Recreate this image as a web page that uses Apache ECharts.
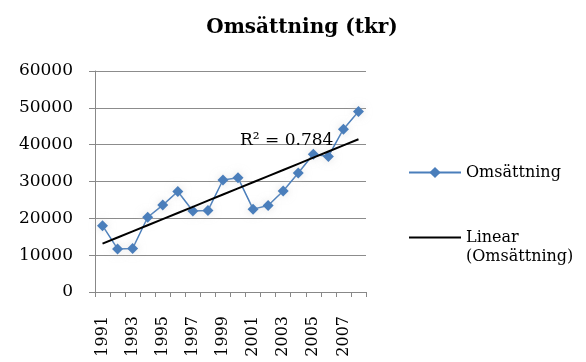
<!DOCTYPE html>
<html>
<head>
<meta charset="utf-8">
<style>
  html, body { margin: 0; padding: 0; background: #fff; }
  #chart { width: 586px; height: 362px; }
</style>
<script src="https://cdn.jsdelivr.net/npm/echarts@6/dist/echarts.min.js"></script>
</head>
<body>
<div id="chart"></div>
<script>
// Yearly turnover in thousands of kronor
const years = ['1991','1992','1993','1994','1995','1996','1997','1998','1999',
               '2000','2001','2002','2003','2004','2005','2006','2007','2008'];
const turnover = [18000, 11700, 11800, 20300, 23600, 27300, 22000, 22100, 30400,
                  31000, 22500, 23500, 27400, 32300, 37400, 36800, 44200, 49000];
const yTicks = [0, 10000, 20000, 30000, 40000, 50000, 60000];

// Least-squares linear trend over the year index
function linearFit(values) {
  const n = values.length;
  const xs = values.map((_, i) => i + 1);
  const mx = xs.reduce((a, b) => a + b, 0) / n;
  const my = values.reduce((a, b) => a + b, 0) / n;
  let sxy = 0, sxx = 0, syy = 0;
  xs.forEach((x, i) => {
    sxy += (x - mx) * (values[i] - my);
    sxx += (x - mx) * (x - mx);
    syy += (values[i] - my) * (values[i] - my);
  });
  const slope = sxy / sxx;
  const intercept = my - slope * mx;
  return { line: xs.map(x => intercept + slope * x), r2: (sxy * sxy) / (sxx * syy) };
}
const fit = linearFit(turnover);
const r2Label = 'R² = 0.784';

const serif = 'DejaVu Serif';
const chart = echarts.init(document.getElementById('chart'), null, { renderer: 'canvas' });
chart.setOption({
  animation: false,
  backgroundColor: '#fff',
  title: {
    text: 'Omsättning (tkr)',
    left: 297, top: 13, textAlign: 'center',
    textStyle: { fontFamily: serif, fontWeight: 'bold', fontSize: 20, color: '#000' }
  },
  grid: { left: 95, right: 220, top: 71, bottom: 70 },
  legend: {
    orient: 'vertical',
    left: 408, top: 163, padding: 0,
    itemWidth: 52, itemHeight: 14, itemGap: 27,
    textStyle: { fontFamily: serif, fontSize: 16, color: '#000', lineHeight: 19 },
    data: [
      { name: 'Omsättning' },
      { name: 'Linear (Omsättning)', icon: 'path://M0,0 L52,0 L52,2 L0,2 Z', itemStyle: { color: '#000' } }
    ],
    // first text line of the trend entry sits level with its line icon
    formatter: name => name === 'Linear (Omsättning)' ? ' \nLinear\n(Omsättning)' : name
  },
  xAxis: {
    type: 'category',
    data: years,
    boundaryGap: true,
    axisLine: { lineStyle: { color: '#888', width: 1 } },
    axisTick: { show: true, length: 5, interval: 0, lineStyle: { color: '#888' } },
    axisLabel: {
      interval: 1, rotate: 90, margin: 24, hideOverlap: false,
      fontFamily: serif, fontSize: 16, color: '#000'
    }
  },
  yAxis: {
    type: 'value',
    min: yTicks[0], max: yTicks[yTicks.length - 1], interval: 10000,
    axisLine: { show: true, lineStyle: { color: '#888', width: 1 } },
    axisTick: { show: true, length: 6, lineStyle: { color: '#888' } },
    splitLine: { lineStyle: { color: '#8c8c8c', width: 1 } },
    axisLabel: { margin: 22, fontFamily: serif, fontSize: 17, color: '#000', formatter: v => String(v) }
  },
  series: [
    {
      name: 'Omsättning',
      type: 'line',
      data: turnover,
      symbol: 'diamond',
      symbolSize: 11,
      showAllSymbol: true,
      color: '#4a7ebb',
      lineStyle: { color: '#4a7ebb', width: 1.5, shadowColor: 'rgba(255,255,255,0.95)', shadowBlur: 8 },
      itemStyle: { color: '#4a7ebb', shadowColor: 'rgba(200,200,200,0.6)', shadowBlur: 8 },
      z: 3
    },
    {
      name: 'Linear (Omsättning)',
      type: 'line',
      data: fit.line,
      symbol: 'none',
      color: '#000',
      lineStyle: { color: '#000', width: 2 },
      z: 4
    }
  ],
  graphic: [
    {
      type: 'text',
      left: 240, top: 132,
      style: { text: r2Label, fontFamily: serif, fontSize: 17, fill: '#000' },
      z: 10
    }
  ]
});
</script>
</body>
</html>
